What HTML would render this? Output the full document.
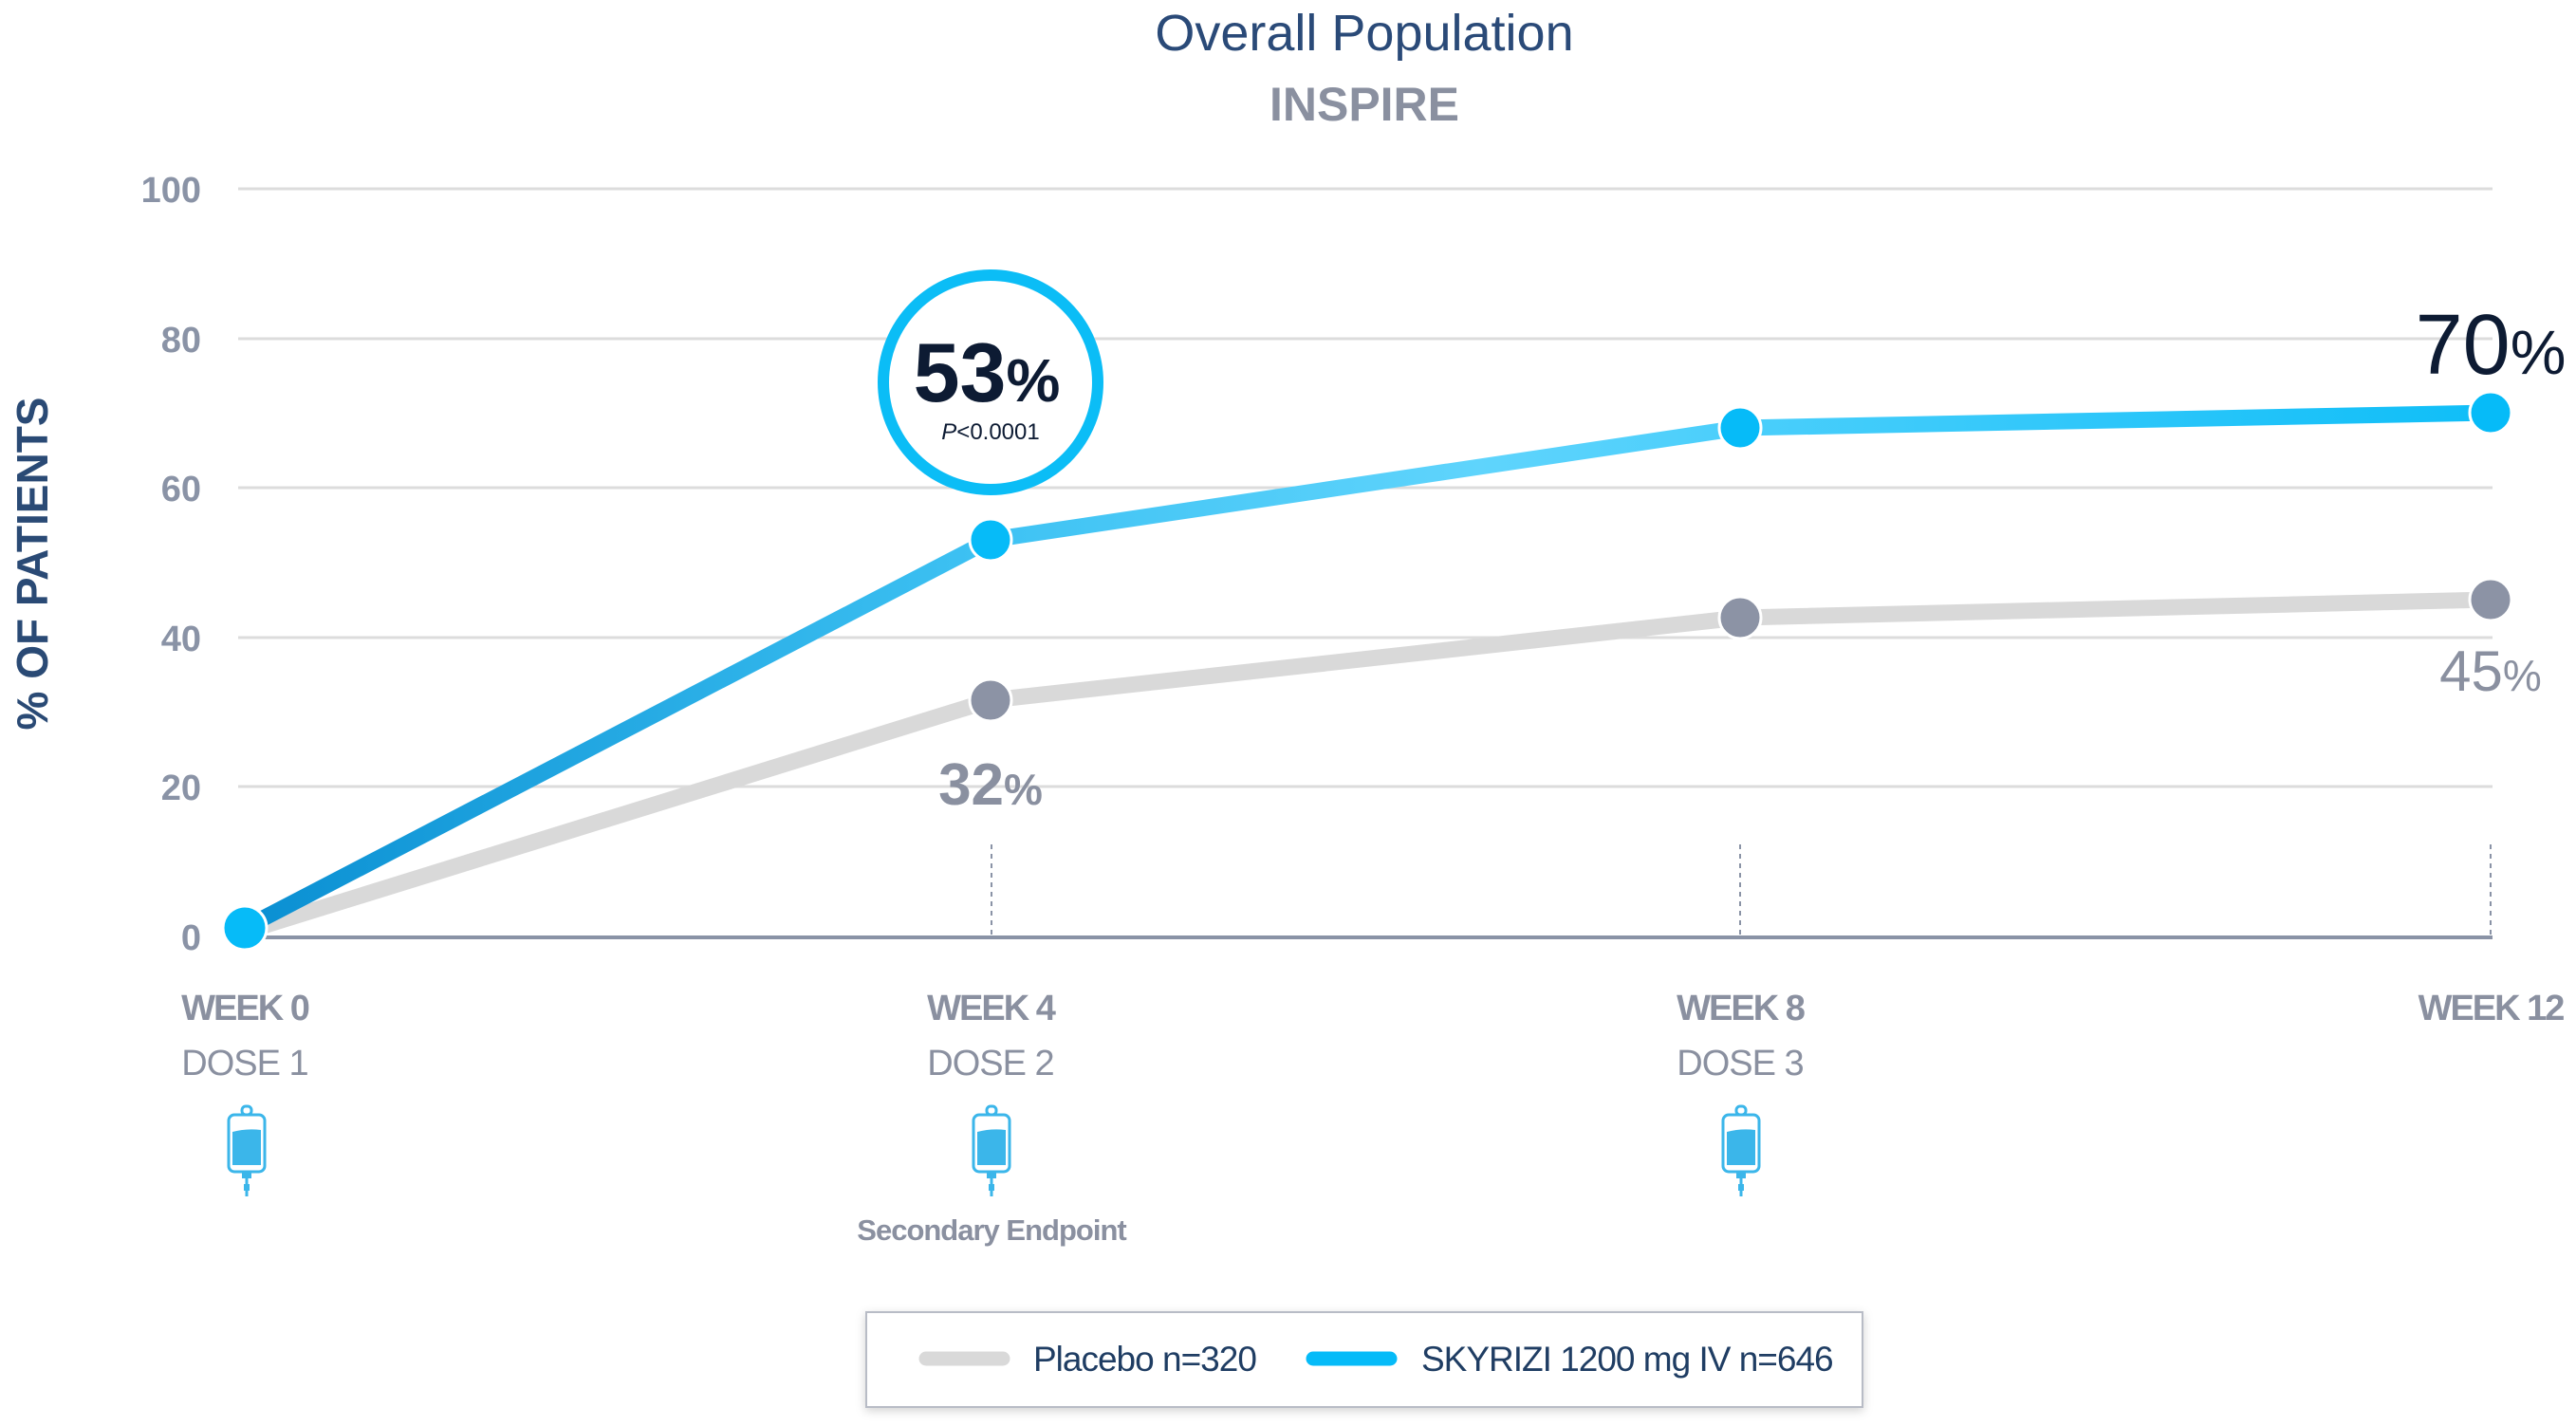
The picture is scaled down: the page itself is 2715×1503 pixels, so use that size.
<!DOCTYPE html>
<html><head><meta charset="utf-8"><style>
html,body{margin:0;padding:0;background:#fff;}
body{width:2715px;height:1498px;overflow:hidden;font-family:"Liberation Sans",sans-serif;}
</style></head><body>
<svg width="2715" height="1498" viewBox="0 0 2715 1498" xmlns="http://www.w3.org/2000/svg" font-family="Liberation Sans, sans-serif">
<defs>
<linearGradient id="bg" x1="258" y1="0" x2="2625" y2="0" gradientUnits="userSpaceOnUse">
<stop offset="0" stop-color="#0a8fd2"/><stop offset="0.33" stop-color="#3ec2f3"/><stop offset="0.55" stop-color="#5fd4fc"/><stop offset="1" stop-color="#0fbef8"/>
</linearGradient>
<filter id="sh" x="-5%" y="-20%" width="110%" height="140%"><feDropShadow dx="0" dy="3" stdDeviation="5" flood-color="#000" flood-opacity="0.18"/></filter>
<g id="bag">
<rect x="-19" y="-28" width="38" height="60" rx="6" fill="#fff" stroke="#3bb6ea" stroke-width="3"/>
<path d="M-15 -10 Q0 -14 15 -12 L15 25 L-15 25 Z" fill="#3bb6ea"/>
<rect x="-5" y="-37" width="10" height="9" rx="4" fill="none" stroke="#3bb6ea" stroke-width="3"/>
<rect x="-5" y="32" width="10" height="7" fill="#3bb6ea"/>
<line x1="0" y1="39" x2="0" y2="58" stroke="#3bb6ea" stroke-width="3"/>
<rect x="-3" y="45" width="6" height="7" fill="#3bb6ea"/>
</g>
</defs>
<text x="1438" y="53" text-anchor="middle" font-size="54" fill="#2a4a78">Overall Population</text>
<text x="1438" y="127" text-anchor="middle" font-size="50" font-weight="bold" fill="#8a90a0">INSPIRE</text>
<g stroke="#dcdcdc" stroke-width="3">
<line x1="251" y1="199" x2="2627" y2="199"/><line x1="251" y1="357" x2="2627" y2="357"/><line x1="251" y1="514" x2="2627" y2="514"/><line x1="251" y1="672" x2="2627" y2="672"/><line x1="251" y1="829" x2="2627" y2="829"/>
</g>
<g font-size="38" font-weight="bold" fill="#8a93a6" text-anchor="end">
<text x="212" y="213">100</text><text x="212" y="371">80</text><text x="212" y="528">60</text><text x="212" y="686">40</text><text x="212" y="843">20</text><text x="212" y="1001">0</text>
</g>
<text transform="translate(50,594) rotate(-90)" text-anchor="middle" font-size="46" font-weight="bold" fill="#2a4a75">% OF PATIENTS</text>
<g stroke="#8a93a6" stroke-width="2" stroke-dasharray="5,5">
<line x1="1045" y1="890" x2="1045" y2="987"/><line x1="1834" y1="890" x2="1834" y2="987"/><line x1="2625" y1="890" x2="2625" y2="987"/>
</g>
<line x1="251" y1="988" x2="2627" y2="988" stroke="#8a93a6" stroke-width="4"/>
<polyline points="258,982 1044,738 1834,651 2625,632" fill="none" stroke="#d9d9d9" stroke-width="17"/>
<polyline points="258,978 1044,569 1834,451 2625,435" fill="none" stroke="url(#bg)" stroke-width="17"/>
<g fill="#8c93a5" stroke="#fff" stroke-width="3">
<circle cx="1044" cy="738" r="22"/><circle cx="1834" cy="651" r="22"/><circle cx="2625" cy="632" r="22"/>
</g>
<g fill="#06bbf8" stroke="#fff" stroke-width="3">
<circle cx="258" cy="978" r="23"/><circle cx="1044" cy="569" r="22"/><circle cx="1834" cy="451" r="22"/><circle cx="2625" cy="435" r="22"/>
</g>
<circle cx="1044" cy="403" r="113" fill="#fff" stroke="#0bbdf6" stroke-width="12"/>
<text x="1040" y="423" text-anchor="middle" fill="#0d1b33" font-weight="bold"><tspan font-size="88">53</tspan><tspan font-size="64">%</tspan></text>
<text x="1044" y="463" text-anchor="middle" font-size="24" fill="#0d1b33"><tspan font-style="italic">P</tspan>&lt;0.0001</text>
<text x="2625" y="394" text-anchor="middle" fill="#0d1b33"><tspan font-size="90">70</tspan><tspan font-size="66">%</tspan></text>
<text x="1044" y="848" text-anchor="middle" fill="#8a90a0" font-weight="bold"><tspan font-size="62">32</tspan><tspan font-size="46">%</tspan></text>
<text x="2625" y="728" text-anchor="middle" fill="#8a90a0"><tspan font-size="60">45</tspan><tspan font-size="46">%</tspan></text>
<g font-size="38" font-weight="bold" fill="#8a90a0" text-anchor="middle" letter-spacing="-2">
<text x="258" y="1075">WEEK 0</text><text x="1044" y="1075">WEEK 4</text><text x="1834" y="1075">WEEK 8</text><text x="2625" y="1075">WEEK 12</text>
</g>
<g font-size="38" fill="#8a90a0" text-anchor="middle" letter-spacing="-1">
<text x="258" y="1133">DOSE 1</text><text x="1044" y="1133">DOSE 2</text><text x="1834" y="1133">DOSE 3</text>
</g>
<use href="#bag" x="260" y="1203"/><use href="#bag" x="1045" y="1203"/><use href="#bag" x="1835" y="1203"/>
<text x="1045" y="1307" text-anchor="middle" font-size="31" font-weight="bold" fill="#8a90a0" letter-spacing="-1">Secondary Endpoint</text>
<rect x="913" y="1383" width="1050" height="100" fill="#fff" stroke="#b8bcc6" stroke-width="2" filter="url(#sh)"/>
<line x1="976" y1="1432" x2="1057" y2="1432" stroke="#d9d9d9" stroke-width="15" stroke-linecap="round"/>
<text x="1089" y="1445" font-size="37" fill="#1f3d63" letter-spacing="-1">Placebo n=320</text>
<line x1="1384" y1="1432" x2="1465" y2="1432" stroke="#06bbf8" stroke-width="15" stroke-linecap="round"/>
<text x="1498" y="1445" font-size="37" fill="#1f3d63" letter-spacing="-1">SKYRIZI 1200 mg IV n=646</text>
</svg>
</body></html>
